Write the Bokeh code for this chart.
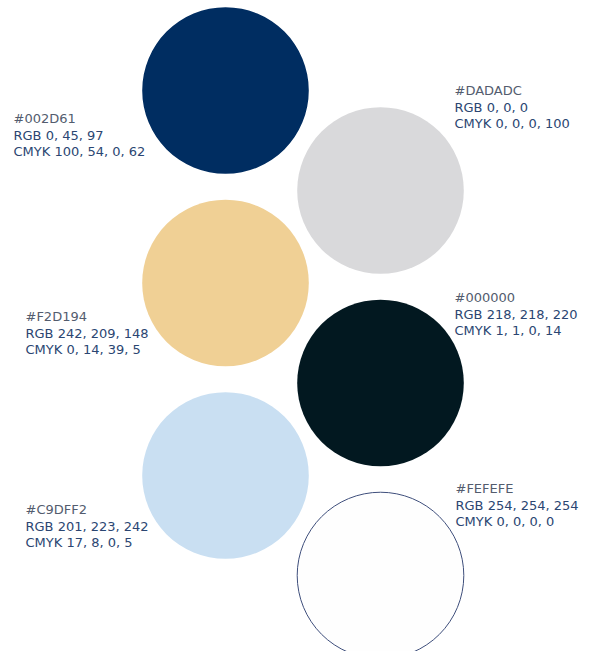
from bokeh.plotting import figure
from bokeh.models import Range1d, ColumnDataSource
from bokeh.core.properties import value
from bokeh.embed import file_html
from bokeh.resources import INLINE

# ---- data ----
hex_codes = ["#002D61", "#DADADC", "#F2D194", "#000000", "#C9DFF2", "#FEFEFE"]
rgb_labels = ["RGB 0, 45, 97", "RGB 0, 0, 0", "RGB 242, 209, 148",
              "RGB 218, 218, 220", "RGB 201, 223, 242", "RGB 254, 254, 254"]
cmyk_labels = ["CMYK 100, 54, 0, 62", "CMYK 0, 0, 0, 100", "CMYK 0, 14, 39, 5",
               "CMYK 1, 1, 0, 14", "CMYK 17, 8, 0, 5", "CMYK 0, 0, 0, 0"]
swatch_colors = ["#002d61", "#d9d9db", "#f0d095", "#021820", "#c9dff2", "#fefefe"]

# ---- layout (pixel-like coordinates) ----
W, H = 581, 651
col_x = [225, 380]
row0_y, row_step, col_offset = 90, 192.5, 100
radius = 83.3
label_x = [13, 454, 25, 454, 25, 455]
label_y = [118, 90, 316, 297, 509, 488]
line_gap = 16.6

n = len(hex_codes)
cx = [col_x[i % 2] for i in range(n)]
cy = [row0_y + row_step * (i // 2) + col_offset * (i % 2) for i in range(n)]
line_colors = [c for c in swatch_colors]
line_colors[-1] = "#3f4f7c"
line_widths = [0] * n
line_widths[-1] = 1.0

p = figure(width=W, height=H, output_backend="svg", toolbar_location=None,
           x_range=Range1d(0, W), y_range=Range1d(H, 0),
           min_border=0)
p.axis.visible = False
p.grid.visible = False
p.outline_line_color = None
p.background_fill_color = "white"
p.border_fill_color = "white"

src = ColumnDataSource(dict(x=cx, y=cy, fill=swatch_colors, lc=line_colors, lw=line_widths))
p.circle(x="x", y="y", radius=radius, fill_color="fill", line_color="lc",
         line_width="lw", source=src)

font = value("DejaVu Sans")
p.text(x=label_x, y=label_y, text=hex_codes, text_font=font, text_font_size="13px",
       text_color="#535c6e", text_baseline="middle", text_align="left")
p.text(x=label_x, y=[y + line_gap for y in label_y], text=rgb_labels, text_font=font,
       text_font_size="13px", text_color="#2b4672", text_baseline="middle", text_align="left")
p.text(x=label_x, y=[y + 2 * line_gap for y in label_y], text=cmyk_labels, text_font=font,
       text_font_size="13px", text_color="#2b4672", text_baseline="middle", text_align="left")

open("out.html", "w").write(file_html(p, INLINE))
